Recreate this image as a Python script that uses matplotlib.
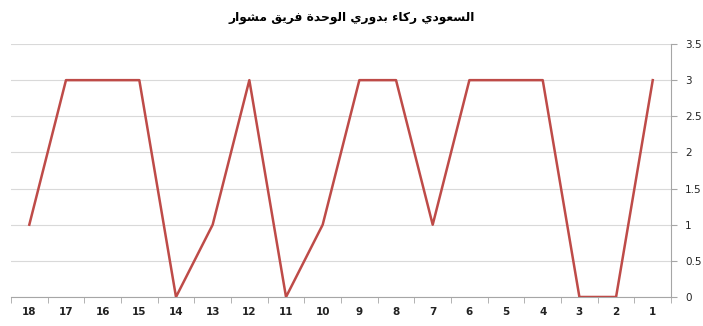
import matplotlib
matplotlib.use("Agg")
import matplotlib.pyplot as plt

# match rounds, shown right-to-left like the original sheet
rounds = [18, 17, 16, 15, 14, 13, 12, 11, 10, 9, 8, 7, 6, 5, 4, 3, 2, 1]
points = [1, 3, 3, 3, 0, 1, 3, 0, 1, 3, 3, 1, 3, 3, 3, 0, 0, 3]
title_txt = "مشوار فريق الوحدة بدوري ركاء السعودي"

# arabic shaping by hand (matplotlib does no joining / bidi)
forms = {
    'ا': ('\uFE8D', '\uFE8E', None, None),
    'ب': ('\uFE8F', '\uFE90', '\uFE91', '\uFE92'),
    'ة': ('\uFE93', '\uFE94', None, None),
    'ح': ('\uFEA1', '\uFEA2', '\uFEA3', '\uFEA4'),
    'د': ('\uFEA9', '\uFEAA', None, None),
    'ر': ('\uFEAD', '\uFEAE', None, None),
    'س': ('\uFEB1', '\uFEB2', '\uFEB3', '\uFEB4'),
    'ش': ('\uFEB5', '\uFEB6', '\uFEB7', '\uFEB8'),
    'ع': ('\uFEC9', '\uFECA', '\uFECB', '\uFECC'),
    'ف': ('\uFED1', '\uFED2', '\uFED3', '\uFED4'),
    'ق': ('\uFED5', '\uFED6', '\uFED7', '\uFED8'),
    'ك': ('\uFED9', '\uFEDA', '\uFEDB', '\uFEDC'),
    'ل': ('\uFEDD', '\uFEDE', '\uFEDF', '\uFEE0'),
    'م': ('\uFEE1', '\uFEE2', '\uFEE3', '\uFEE4'),
    'و': ('\uFEED', '\uFEEE', None, None),
    'ي': ('\uFEF1', '\uFEF2', '\uFEF3', '\uFEF4'),
    'ء': ('\uFE80', None, None, None),
}


def shape_word(s):
    out = []
    for i, c in enumerate(s):
        if c not in forms:
            out.append(c)
            continue
        f = forms[c]
        prev = s[i - 1] if i > 0 else ''
        nxt = s[i + 1] if i + 1 < len(s) else ''
        join_prev = prev in forms and forms[prev][2] is not None and f[1] is not None
        join_next = f[2] is not None and nxt in forms and forms[nxt][1] is not None
        if join_prev and join_next:
            out.append(f[3])
        elif join_prev:
            out.append(f[1])
        elif join_next:
            out.append(f[2])
        else:
            out.append(f[0])
    return ''.join(out)[::-1]


def shape(s):
    # the original keeps the words in typing order, left to right
    return ' '.join(shape_word(w) for w in s.split(' '))


fig = plt.figure(figsize=(7.03, 3.26), dpi=100)
ax = fig.add_axes([0.0156, 0.089, 0.939, 0.776])

xs = list(range(len(rounds)))
ax.plot(xs, points, color='#be4b48', lw=1.8, zorder=3)

ax.set_xlim(-0.5, len(rounds) - 0.5)
ax.set_ylim(0, 3.5)
ax.set_xticks(xs)
ax.set_xticklabels([str(r) for r in rounds], fontsize=7.5, fontweight='bold', color='#222222')
ax.set_xticks([x - 0.5 for x in range(len(rounds) + 1)], minor=True)
ax.tick_params(axis='x', which='major', length=0, pad=7)
ax.tick_params(axis='x', which='minor', length=4, color='#a6a6a6', direction='out')

ax.yaxis.tick_right()
ax.set_yticks([0, 0.5, 1, 1.5, 2, 2.5, 3, 3.5])
ax.set_yticklabels(['0', '0.5', '1', '1.5', '2', '2.5', '3', '3.5'], fontsize=7.5, color='#222222')
ax.tick_params(axis='y', length=4, color='#a6a6a6', pad=6)
ax.grid(axis='y', color='#d9d9d9', lw=0.8)
ax.set_axisbelow(True)

for side in ['left', 'top']:
    ax.spines[side].set_visible(False)
for side in ['right', 'bottom']:
    ax.spines[side].set_color('#a6a6a6')
    ax.spines[side].set_linewidth(0.8)

fig.text(0.5, 0.945, shape(title_txt), ha='center', va='center',
         fontsize=8.8, fontweight='bold', family='DejaVu Sans')

fig.savefig('out.png', dpi=100)
